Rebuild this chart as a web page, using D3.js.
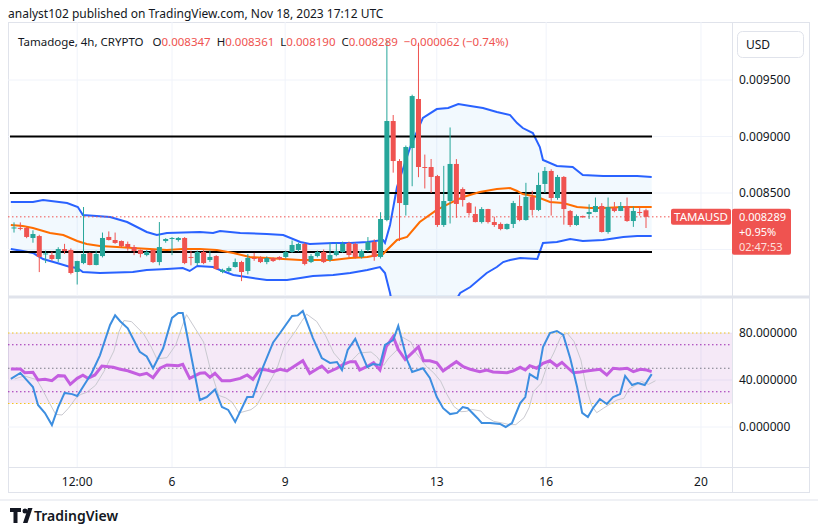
<!DOCTYPE html>
<html><head><meta charset="utf-8">
<script src="https://cdn.jsdelivr.net/npm/d3@7"></script>
<style>body{margin:0;background:#fff;font-family:"Noto Sans",Roboto,sans-serif}</style>
</head><body><svg id="c" width="818" height="532"></svg>
<script>
// prices in micro-units (1e-6 USD)
const candles = [
[8191,8240,8150,8195],[8191,8240,8170,8186],[8191,8200,8100,8111],[8102,8170,8060,8137],[8119,8130,7800,7934],
[7960,7990,7880,7965],[7951,7980,7900,7916],[7916,8020,7890,8004],[8004,8050,7960,7987],[7996,8010,7780,7792],
[7801,7900,7690,7898],[7880,8376,7870,7960],[7969,7975,7860,7863],[7863,7990,7860,7960],[7942,8150,7930,8102],
[8111,8160,8080,8084],[8084,8150,8050,8058],[8075,8080,8020,8031],[8049,8070,7990,8022],[8022,8040,7950,7987],
[7996,8000,7930,7960],[7951,7995,7940,7978],[7996,8000,7880,7889],[7889,8243,7860,8022],[8075,8100,8060,8093],
[8093,8110,7950,8102],[8084,8110,8070,8102],[8102,8110,7870,7880],[7934,7990,7860,7930],[7880,7990,7860,7978],
[7978,8000,7870,7880],[7907,7990,7890,7934],[7942,7950,7820,7827],[7801,7830,7790,7819],[7810,7850,7800,7836],
[7845,7920,7840,7889],[7889,7900,7720,7801],[7810,7960,7780,7925],[7925,7970,7900,7920],[7925,7940,7880,7889],
[7889,7940,7870,7925],[7925,7930,7890,7898],[7934,7940,7905,7916],[7934,7990,7920,7978],[7978,8080,7970,8040],
[7996,8060,7980,8049],[8049,8060,7860,7872],[7889,7960,7880,7942],[7942,7990,7930,7978],[7978,8000,7880,7889],
[7907,8060,7890,7951],[7951,8060,7940,7987],[7978,8070,7970,8049],[8058,8070,7930,7951],[8049,8060,7920,7934],
[7934,8000,7920,7987],[7996,8110,7980,8066],[8066,8090,7900,7934],[7934,8330,7920,8270],[8261,9854,8250,9137],
[9137,9190,8680,8783],[8783,8800,8075,8411],[8394,8920,8300,8907],[8898,9370,8560,9358],[9332,9830,8640,8730],
[8730,8840,8540,8725],[8730,8801,8500,8642],[8650,8660,8200,8217],[8217,8740,8200,8429],[8429,9080,8230,8757],
[8757,8800,8280,8403],[8535,8550,8380,8438],[8411,8420,8300,8323],[8314,8380,8240,8243],[8243,8375,8230,8358],
[8358,8360,8230,8243],[8243,8290,8200,8217],[8226,8240,8170,8181],[8181,8230,8175,8226],[8226,8430,8190,8411],
[8385,8480,8250,8261],[8261,8590,8255,8465],[8465,8520,8300,8350],[8350,8680,8340,8571],[8580,8730,8500,8695],
[8695,8710,8300,8456],[8456,8660,8440,8642],[8642,8650,8220,8358],[8341,8350,8200,8217],[8217,8310,8210,8296],
[8296,8300,8280,8285],[8314,8400,8270,8332],[8332,8460,8330,8385],[8385,8410,8150,8155],[8155,8460,8140,8376],
[8367,8420,8330,8341],[8341,8420,8340,8385],[8385,8460,8245,8252],[8252,8380,8200,8341],[8332,8380,8300,8323],
[8347,8361,8190,8289]];
const upperIdx=[-0.5,3,4.6,8.4,10.1,10.9,15.2,17.9,21,22.6,24.2,29.4,31.5,32.6,35.8,40,42.6,45.3,46.8,50.5,53.2,55.9,58.4,58.7,59.5,60.6,62.7,64.7,66.9,68.7,70.3,72.2,74.2,76.4,78.5,79.6,80.5,82.1,83.2,83.7,85.9,88.4,90,93.2,98.6,100.9];
const upperVal=[8420,8420,8438,8411,8376,8305,8288,8243,8155,8128,8146,8155,8146,8164,8146,8137,8128,8066,8049,8058,8058,8066,8084,8058,8217,8553,8907,9164,9243,9252,9288,9270,9252,9217,9190,9119,9075,9031,8907,8792,8739,8730,8659,8650,8650,8642];
const lowerIdx=[-0.5,1.4,3,4.6,6.8,8.9,10,10.9,13.6,18.8,21,24.2,26.7,27.8,29,31.5,32.6,34.7,37.8,40,43.2,45.3,47.3,50.5,53.2,55.9,57.9,58.7,59.5,60.3,62.7,65.8,69,70.6,72.2,74.8,76.4,77.4,78.5,80.1,82.8,83.7,85.9,88,90,93.2,96.4,98.6,100.9];
const lowerVal=[8004,7987,7969,7916,7880,7845,7836,7801,7792,7801,7819,7827,7836,7810,7854,7845,7819,7774,7748,7730,7730,7748,7765,7774,7792,7819,7845,7792,7615,7376,7155,7200,7465,7615,7668,7792,7845,7889,7907,7925,7916,8058,8066,8093,8075,8084,8111,8119,8119];
const maIdx=[-0.5,1.4,3,5.7,7.8,10,11.5,13.6,16.3,18.8,21.5,24.2,26.7,29.4,32.1,34.7,37.3,40,42.6,45.3,47.9,50.5,53.2,55.9,58.4,59,60.6,62.2,64.2,66.9,69,71.1,73.7,76.4,78.5,79.6,80.5,82.8,84.8,86.9,89.1,91.2,93.2,96.4,100.9];
const maVal=[8217,8208,8191,8146,8128,8075,8049,8031,8022,8013,8004,7996,8004,8004,7996,7969,7934,7925,7916,7907,7907,7907,7925,7934,7960,7996,8084,8111,8243,8350,8411,8465,8509,8535,8544,8518,8491,8465,8420,8411,8376,8367,8367,8376,8376];
const levels=[9000,8500,7978];
const kIdx=[-0.5,1,3,3.8,4.9,6,7,8,9.2,10,10.9,12.3,13.6,15.2,16,16.8,18,19.9,21,22,23.6,25,26,26.7,29.4,30.5,31.8,32.9,33.9,35,36.9,37.8,39.4,41,42.1,44,44.9,45.7,47.3,48.7,50,51.1,51.9,52.8,54,55.9,56.8,57.9,58.7,60,60.8,62.2,63,64.7,65.8,66.9,67.9,69,70.1,71,71.8,73.3,74,75.3,76.9,77.8,78.8,80.1,80.9,81.6,82.8,83.7,84.8,85.9,86.9,88,89.1,89.9,90.8,91.6,92.7,93.8,94.8,95.9,96.7,97.8,98.7,99.8,100.9];
const kVal=[40.9,46,34,18.7,11.9,1.7,17,29,28,26.4,34,46,61,86.8,95,90,84,64,60,50,67,92.8,97,97,23,25.5,32,17,14.5,4.3,25.5,25.5,51,72,80,94.5,95,98.7,75.7,58.7,54.5,55.3,48.5,65.5,75,51,53.6,52.8,69.8,74,86,57,46.8,50,41.7,25.5,16,11,12,17,16,7.7,3.4,3.4,2.6,0,3.4,20.4,25.5,45,40.9,68,80,81.7,78.3,58.7,34,12,8.5,16,23.8,19.6,25.5,28,43.4,35.7,37.4,35.7,45];
const rsiIdx=[-0.5,1,1.7,3,3.8,4.9,6,7,8,8.9,10,10.9,11.7,12.8,13.9,15.7,16.8,18,19.9,21,22,23.1,24.2,26,26.7,27.8,29.4,30.2,31,31.8,32.9,34.2,35.8,36.9,37.8,38.9,40,41,42.1,43.2,44.1,45.7,46.8,48.7,49.7,51.1,52.1,53.2,54,54.7,55.8,56.9,57.9,58.9,60,60.8,61.9,63,64,64.8,65.8,66.9,67.9,69,70,71.1,72.2,73.7,74.8,75.8,78,79,80.1,80.9,81.6,82.7,83.7,84.8,85.9,86.7,87.7,88.5,89.6,90.6,92.7,93.8,94.8,95.9,97,98,99.1,100.1,100.9];
const rsiVal=[49.4,49.4,46.2,46.6,40,40.6,39.4,43.7,43.4,36.3,41.4,44,41.4,44.3,51.9,50.8,49.1,47.9,44.3,45.7,42,50,52.8,52.2,53.4,41.4,45.7,46.2,42.3,45.7,39.4,39.4,41.4,44.3,40.6,49.1,48.5,47.1,49.1,47.7,50.8,56.4,45.7,51.9,46.6,50,53.4,55.6,55.6,48.5,51.3,54.7,48.5,68.3,76.9,65.9,57.4,63.1,68.3,56.4,56.4,54.7,47.7,51.9,55.6,51.3,49.1,47.1,48.5,46.8,46.2,47.7,50.8,48.5,52.2,50,54.2,56.4,51.9,55,50,46.2,46.8,47.7,49.1,44.3,50,49.4,50,47.1,49.1,48.5,47.1];
const priceTicks=[9500,9000,8500];
const oscTicks=[80,40,0];
const timeTicks=[["12:00",10],["6",25],["9",42.9],["13",66.9],["16",84.2],["20",108.7]];

const svg=d3.select("#c");
const x=d3.scaleLinear().domain([0,100]).range([14,646]);
const y=d3.scaleLinear().domain([8500,9500]).range([193,80]);
const yo=d3.scaleLinear().domain([0,80]).range([427,333]);
const R=732, T1=22, B1=296, T2=298, B2=467;
const defs=svg.append("defs");
defs.append("clipPath").attr("id","c1").append("rect").attr("x",8).attr("y",T1).attr("width",R-8).attr("height",B1-T1);
defs.append("clipPath").attr("id","c2").append("rect").attr("x",8).attr("y",T2).attr("width",R-8).attr("height",B2-T2);

svg.append("rect").attr("x",8.5).attr("y",22.5).attr("width",801).attr("height",470).attr("fill","none").attr("stroke","#e0e3eb");
svg.append("line").attr("x1",R+.5).attr("x2",R+.5).attr("y1",22).attr("y2",492).attr("stroke","#e0e3eb");
svg.append("line").attr("x1",8).attr("x2",810).attr("y1",B1+1).attr("y2",B1+1).attr("stroke","#e0e3eb").attr("stroke-width",3);
svg.append("line").attr("x1",8).attr("x2",810).attr("y1",B2+.5).attr("y2",B2+.5).attr("stroke","#e0e3eb");
const g=svg.append("g");
timeTicks.forEach(t=>{[ [T1,B1],[T2,B2] ].forEach(r=>g.append("line").attr("x1",x(t[1])).attr("x2",x(t[1])).attr("y1",r[0]).attr("y2",r[1]).attr("stroke","#f0f3fa"));});
priceTicks.concat([8000]).forEach(v=>g.append("line").attr("x1",8).attr("x2",R).attr("y1",y(v)).attr("y2",y(v)).attr("stroke","#f0f3fa"));
oscTicks.forEach(v=>g.append("line").attr("x1",8).attr("x2",R).attr("y1",yo(v)).attr("y2",yo(v)).attr("stroke","#f0f3fa"));

const m=svg.append("g").attr("clip-path","url(#c1)");
const up=upperIdx.map((d,i)=>[x(d),y(upperVal[i])]);
const lo=lowerIdx.map((d,i)=>[x(d),y(lowerVal[i])]);
m.append("path").attr("d","M"+up.join("L")+"L"+lo.slice().reverse().join("L")+"Z").attr("fill","rgba(33,150,243,0.06)");
const ln=d3.line();
m.append("path").attr("d",ln(up)).attr("fill","none").attr("stroke","#2962ff").attr("stroke-width",2);
m.append("path").attr("d",ln(lo)).attr("fill","none").attr("stroke","#2962ff").attr("stroke-width",2);
levels.forEach(v=>m.append("line").attr("x1",10).attr("x2",652).attr("y1",y(v)).attr("y2",y(v)).attr("stroke","#000").attr("stroke-width",2));
m.append("path").attr("d",ln(maIdx.map((d,i)=>[x(d),y(maVal[i])]))).attr("fill","none").attr("stroke","#ff6d00").attr("stroke-width",2);
const last=candles[candles.length-1][3];
m.append("line").attr("x1",8).attr("x2",R).attr("y1",y(last)).attr("y2",y(last)).attr("stroke","#ef5350").attr("stroke-dasharray","1.5,2.5");
candles.forEach((c,i)=>{
  const col=c[3]>=c[0]?"#26a69a":"#ef5350", cx=x(i);
  m.append("line").attr("x1",cx).attr("x2",cx).attr("y1",y(c[1])).attr("y2",y(c[2])).attr("stroke",col);
  const t=y(Math.max(c[0],c[3])), b=y(Math.min(c[0],c[3]));
  m.append("rect").attr("x",cx-2.5).attr("width",5).attr("y",t).attr("height",Math.max(1,b-t)).attr("fill",col);
});

const o=svg.append("g").attr("clip-path","url(#c2)");
o.append("rect").attr("x",8).attr("width",R-8).attr("y",yo(80)).attr("height",yo(20)-yo(80)).attr("fill","rgba(156,39,176,0.1)");
[[80,"#f5c518"],[20,"#f5c518"],[70,"#9c27b0"],[30,"#9c27b0"],[50,"#787b86"]].forEach(a=>o.append("line").attr("x1",8).attr("x2",R).attr("y1",yo(a[0])).attr("y2",yo(a[0])).attr("stroke",a[1]).attr("stroke-dasharray","1.5,2.5"));
const dVal=kVal.map((v,i)=>d3.mean(kVal.slice(Math.max(0,i-2),i+1)));
o.append("path").attr("d",ln(kIdx.map((d,i)=>[x(d+0.6),yo(dVal[i])]))).attr("fill","none").attr("stroke","#c9c9d0").attr("stroke-width",1);
o.append("path").attr("d",ln(rsiIdx.map((d,i)=>[x(d),yo(rsiVal[i])]))).attr("fill","none").attr("stroke","#c45ee0").attr("stroke-width",3);
o.append("path").attr("d",ln(kIdx.map((d,i)=>[x(d),yo(kVal[i])]))).attr("fill","none").attr("stroke","#3d8ee0").attr("stroke-width",2);

const fmt=v=>(v/1e6).toFixed(6);
priceTicks.forEach(v=>svg.append("text").attr("x",739).attr("y",y(v)+4).attr("font-size",12).attr("fill","#131722").text(fmt(v)));
oscTicks.forEach(v=>svg.append("text").attr("x",739).attr("y",yo(v)+4).attr("font-size",12).attr("fill","#131722").text(v.toFixed(6)));
timeTicks.forEach(t=>svg.append("text").attr("x",x(t[1])).attr("y",486).attr("text-anchor","middle").attr("font-size",12).attr("fill","#131722").text(t[0]));
svg.append("rect").attr("x",737.5).attr("y",31.5).attr("width",66).attr("height",26).attr("rx",5).attr("fill","#fff").attr("stroke","#e0e3eb");
svg.append("text").attr("x",746).attr("y",49).attr("font-size",12).attr("fill","#131722").text("USD");
const ly=y(last);
svg.append("rect").attr("x",671).attr("y",ly-8).attr("width",60).attr("height",16).attr("rx",2).attr("fill","#ef5350");
svg.append("text").attr("x",701).attr("y",ly+4).attr("text-anchor","middle").attr("font-size",11.5).attr("fill","#fff").text("TAMAUSD");
svg.append("rect").attr("x",732).attr("y",ly-8).attr("width",59).attr("height",46).attr("rx",2).attr("fill","#ef5350");
[["0.008289",4,"#fff"],["+0.95%",19,"#fff"],["02:47:53",34,"#fde0de"]].forEach(a=>svg.append("text").attr("x",739).attr("y",ly+a[1]).attr("font-size",11).attr("fill",a[2]).text(a[0]));

svg.append("text").attr("x",8).attr("y",18).attr("font-size",12).attr("fill","#131722").text("analyst102 published on TradingView.com, Nov 18, 2023 17:12 UTC");
const h=svg.append("text").attr("x",18).attr("y",46).attr("font-size",11.5).attr("fill","#131722").attr("xml:space","preserve").style("white-space","pre");
h.append("tspan").text("Tamadoge, 4h, CRYPTO   ");
[["O","0.008347"],["H","0.008361"],["L","0.008190"],["C","0.008289"]].forEach(a=>{h.append("tspan").text(a[0]);h.append("tspan").attr("fill","#ef5350").text(a[1]+"  ");});
h.append("tspan").attr("fill","#ef5350").text("−0.000062 (−0.74%)");
svg.append("line").attr("x1",0).attr("x2",818).attr("y1",500).attr("y2",500).attr("stroke","#e0e3eb");
const f=svg.append("g").attr("transform","translate(10,508)");
f.append("path").attr("d","M0 0h11v4h-3.5v11h-4V4H0z").attr("fill","#131722");
f.append("circle").attr("cx",15).attr("cy",3).attr("r",2.5).attr("fill","#131722");
f.append("path").attr("d","M13 15l5-15h4.5l-5 15z").attr("fill","#131722");
svg.append("text").attr("x",34).attr("y",521).attr("font-size",14).attr("font-weight",600).attr("fill","#131722").text("TradingView");
</script></body></html>
